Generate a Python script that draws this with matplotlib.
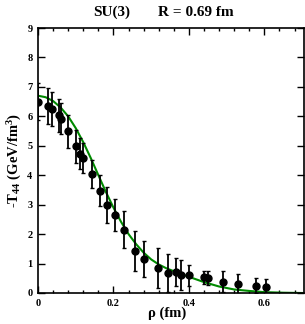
import numpy as np
import matplotlib
matplotlib.use('Agg')
import matplotlib.pyplot as plt
from matplotlib.ticker import MultipleLocator

plt.rcParams['font.family'] = ['Liberation Serif', 'DejaVu Serif']
plt.rcParams['font.weight'] = 'bold'
plt.rcParams['mathtext.fontset'] = 'custom'
plt.rcParams['mathtext.rm'] = 'Liberation Serif:bold'
plt.rcParams['mathtext.default'] = 'rm'

# lattice data points (rho in fm, -T44 in GeV/fm^3)
rho = [0.000, 0.027, 0.038, 0.055, 0.062, 0.080, 0.100, 0.112, 0.119, 0.144,
       0.164, 0.184, 0.204, 0.228, 0.257, 0.280, 0.318, 0.344, 0.367, 0.380,
       0.400, 0.441, 0.450, 0.491, 0.531, 0.578, 0.605]
t44 = [6.50, 6.35, 6.25, 6.03, 5.92, 5.49, 4.98, 4.73, 4.58, 4.05,
       3.47, 2.99, 2.64, 2.15, 1.44, 1.15, 0.84, 0.69, 0.71, 0.61,
       0.60, 0.54, 0.52, 0.39, 0.30, 0.25, 0.21]
t44_err = [0.62, 0.60, 0.57, 0.55, 0.52, 0.55, 0.56, 0.52, 0.50, 0.48,
           0.53, 0.60, 0.54, 0.62, 0.68, 0.60, 0.68, 0.65, 0.47, 0.52,
           0.36, 0.22, 0.24, 0.37, 0.35, 0.26, 0.28]

# fit curve
fit_rho = [0.00, 0.02, 0.04, 0.06, 0.08, 0.10, 0.12, 0.14, 0.16, 0.18,
           0.20, 0.22, 0.24, 0.26, 0.28, 0.30, 0.32, 0.34, 0.36, 0.38,
           0.40, 0.44, 0.48, 0.52, 0.56, 0.60, 0.65, 0.70]
fit_t44 = [6.70, 6.65, 6.52, 6.30, 6.00, 5.60, 5.12, 4.58, 4.00, 3.43,
           2.90, 2.42, 2.00, 1.66, 1.37, 1.14, 0.97, 0.84, 0.74, 0.64,
           0.55, 0.37, 0.22, 0.12, 0.07, 0.03, 0.01, 0.00]

fig = plt.figure(figsize=(3.05, 3.24), dpi=100)
ax = fig.add_axes([38/305, 1 - 293/324, 266/305, 265/324])

ax.plot(fit_rho, fit_t44, color='#008a00', lw=1.5, zorder=2)
ax.errorbar(rho, t44, yerr=t44_err, fmt='o', color='black', ms=5,
            elinewidth=1.3, capsize=1.2, capthick=1.0, zorder=3)

ax.set_xlim(0, 0.705)
ax.set_ylim(0, 9)
ax.xaxis.set_major_locator(MultipleLocator(0.2))
ax.xaxis.set_minor_locator(MultipleLocator(0.04))
ax.yaxis.set_major_locator(MultipleLocator(1))
ax.set_xticks([0, 0.2, 0.4, 0.6])
ax.set_xticklabels(['0', '0.2', '0.4', '0.6'])
ax.tick_params(which='both', direction='in', top=True, right=True,
               labelsize=7.5, width=1.0)
ax.tick_params(which='major', length=5, pad=4)
ax.tick_params(which='minor', length=2.5)
for s in ax.spines.values():
    s.set_linewidth(1.2)

ax.set_xlabel('\u03c1 (fm)', fontsize=10.5, fontweight='bold')
ax.set_ylabel(r'-T$_{44}$ (GeV/fm$^{3}$)', fontsize=10.5, fontweight='bold')
ax.xaxis.set_label_coords(0.485, -0.05)
ax.yaxis.set_label_coords(-0.052, 0.5)

fig.text(112/305, 1 - 12/324, 'SU(3)', fontsize=11, fontweight='bold',
         ha='center', va='center')
fig.text(196/305, 1 - 12/324, 'R = 0.69 fm', fontsize=11, fontweight='bold',
         ha='center', va='center')

fig.savefig('out.png', dpi=100)
